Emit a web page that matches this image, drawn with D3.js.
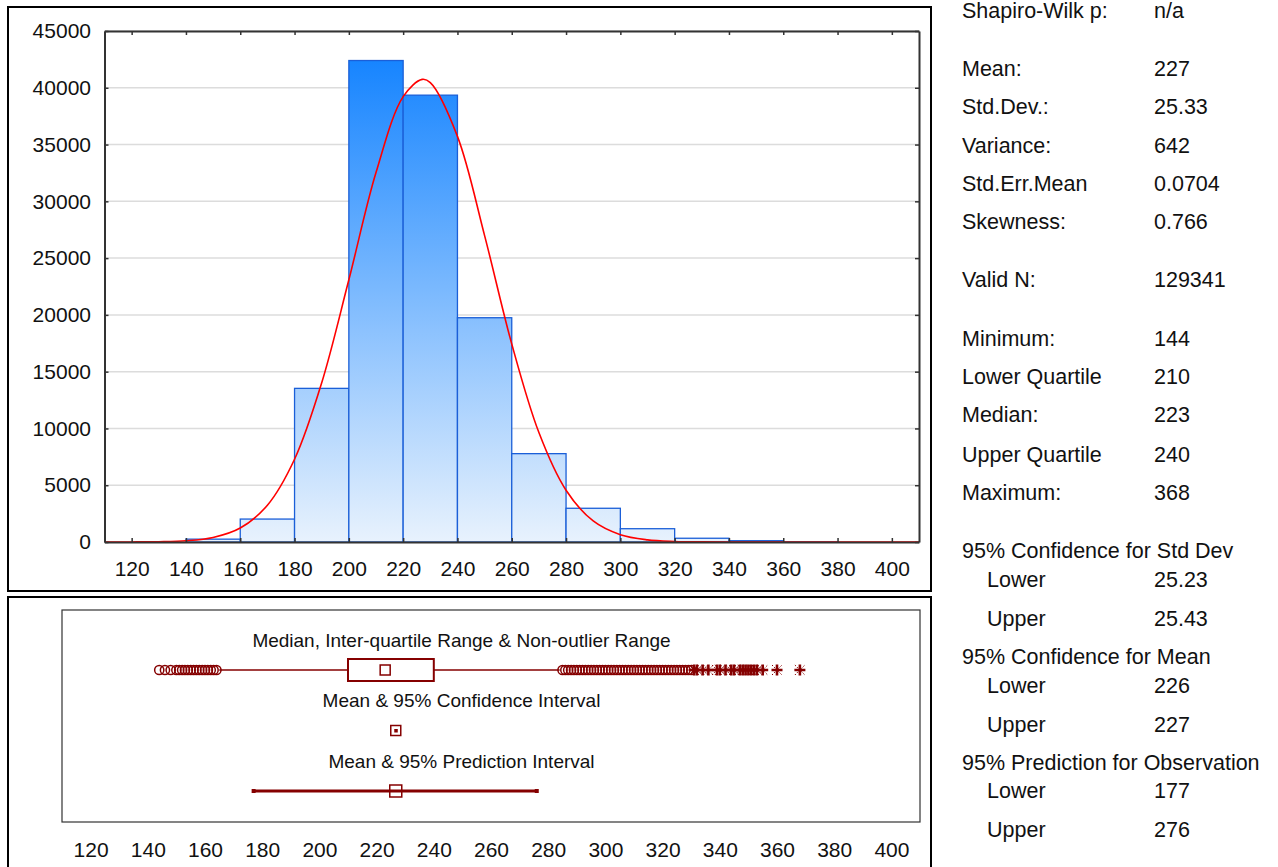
<!DOCTYPE html>
<html>
<head>
<meta charset="utf-8">
<title>Histogram with box plot and descriptive statistics</title>
<script src="https://cdnjs.cloudflare.com/ajax/libs/d3/7.8.5/d3.min.js"></script>
<style>
    body { margin: 0; background: #fff; }
    svg text { font-family: "Liberation Sans", Arial, sans-serif; fill: #111; }
</style>
</head>
<body>
<div id="chart"></div>
<script>
// histogram bins (start of each 20-wide bin) and counts
const binStarts = [140, 160, 180, 200, 220, 240, 260, 280, 300, 320, 340, 360];
const binCounts = [250, 2020, 13530, 42400, 39350, 19750, 7780, 2970, 1170, 330, 115, 3];
const binWidth = 20;

// fitted normal curve
const fitX = [110, 120, 130, 140, 150, 160, 170, 180, 190, 200, 210, 220, 227, 230, 240, 250, 260, 270, 280, 290, 300, 310, 320, 330, 340, 350, 360, 410];
const fitY = [1, 5, 27, 111, 400, 1230, 3240, 7290, 14020, 23090, 32530, 39220, 40740, 40460, 35720, 26980, 17440, 9640, 4560, 1850, 640, 190, 48, 10, 2, 0, 0, 0];

const xTicks = [120, 140, 160, 180, 200, 220, 240, 260, 280, 300, 320, 340, 360, 380, 400];
const yTicks = [0, 5000, 10000, 15000, 20000, 25000, 30000, 35000, 40000, 45000];

// box plot values
const lowerQuartile = 210, medianVal = 223, upperQuartile = 240;
const whiskerLow = 165, whiskerHigh = 284;
const meanVal = 226.7;
const ciMean = [226.5, 226.9];
const predInterval = [177, 276];
const outliersLow = [144, 146, 148, 150, 151, 152, 153, 154, 155, 156, 157, 158, 159, 160, 161, 162, 163, 164];
const outliersHigh = d3.range(285, 331);
const extremes = [331, 332, 334, 336, 339, 340, 342, 344, 345, 347, 348, 349, 350, 351, 352, 353, 355, 360, 368];
const rowTitles = ["Median, Inter-quartile Range & Non-outlier Range", "Mean & 95% Confidence Interval", "Mean & 95% Prediction Interval"];

// statistics panel
const statLabels = ["Shapiro-Wilk p:", "Mean:", "Std.Dev.:", "Variance:", "Std.Err.Mean", "Skewness:", "Valid N:",
    "Minimum:", "Lower Quartile", "Median:", "Upper Quartile", "Maximum:",
    "95% Confidence for Std Dev", "Lower", "Upper", "95% Confidence for Mean", "Lower", "Upper",
    "95% Prediction for Observation", "Lower", "Upper"];
const statValues = ["n/a", "227", "25.33", "642", "0.0704", "0.766", "129341",
    "144", "210", "223", "240", "368",
    "", "25.23", "25.43", "", "226", "227",
    "", "177", "276"];
const statIndent = [0,0,0,0,0,0,0, 0,0,0,0,0, 0,1,1, 0,1,1, 0,1,1];

// layout
const W = 1278, H = 867;
const dark = "#850000";
const statBaselines = [18, 76, 114, 153, 191, 229, 287, 346, 384, 422, 462, 500, 558, 587, 626, 664, 693, 732, 770, 798, 837];

const svg = d3.select("#chart").append("svg")
    .attr("width", W)
    .attr("height", H);

// panel frames
svg.append("rect").attr("x", 8).attr("y", 7).attr("width", 923).attr("height", 584)
    .attr("fill", "none").attr("stroke", "#000").attr("stroke-width", 2);
svg.append("rect").attr("x", 8).attr("y", 597).attr("width", 923).attr("height", 290)
    .attr("fill", "none").attr("stroke", "#000").attr("stroke-width", 2);

// ---- histogram ----
const pLeft = 104.5, pRight = 919, pTop = 31, pBottom = 542;
const x = d3.scaleLinear().domain([110, 410]).range([pLeft, pRight]);
const y = d3.scaleLinear().domain([0, 45000]).range([pBottom, pTop]);

const defs = svg.append("defs");
const grad = defs.append("linearGradient")
    .attr("id", "barFill")
    .attr("gradientUnits", "userSpaceOnUse")
    .attr("x1", 0).attr("x2", 0)
    .attr("y1", pTop).attr("y2", pBottom);
grad.append("stop").attr("offset", "0%").attr("stop-color", "#0a7eff");
grad.append("stop").attr("offset", "100%").attr("stop-color", "#e8f2fd");
defs.append("clipPath").attr("id", "plotClip")
    .append("rect").attr("x", pLeft).attr("y", pTop).attr("width", pRight - pLeft).attr("height", pBottom - pTop);

// grid
svg.append("g").selectAll("line")
    .data(yTicks)
    .enter().append("line")
    .attr("x1", pLeft).attr("x2", pRight)
    .attr("y1", d => y(d)).attr("y2", d => y(d))
    .attr("stroke", "#dcdcdc").attr("stroke-width", 1.5);

// bars
svg.append("g").selectAll("rect")
    .data(binStarts)
    .enter().append("rect")
    .attr("x", d => x(d))
    .attr("width", d => x(d + binWidth) - x(d))
    .attr("y", (d, i) => y(binCounts[i]))
    .attr("height", (d, i) => y(0) - y(binCounts[i]))
    .attr("fill", "url(#barFill)")
    .attr("stroke", "#1b5fd8")
    .attr("stroke-width", 1.3);

// fitted curve
const fitLine = d3.line()
    .x(d => x(d[0]))
    .y(d => y(d[1]))
    .curve(d3.curveCatmullRom);
svg.append("path")
    .datum(fitX.map((v, i) => [v, fitY[i]]))
    .attr("clip-path", "url(#plotClip)")
    .attr("d", fitLine)
    .attr("fill", "none")
    .attr("stroke", "#ff0000")
    .attr("stroke-width", 1.6);

// axes with inward ticks
function styleAxis(g) {
    g.select(".domain").attr("stroke", "#333").attr("stroke-width", 2);
    g.selectAll(".tick line").attr("stroke", "#333").attr("stroke-width", 1.5);
    g.selectAll(".tick text").attr("fill", "#111").style("font-size", "21px")
        .style("font-family", "'Liberation Sans', Arial, sans-serif");
}
svg.append("g")
    .attr("transform", `translate(0,${pBottom})`)
    .call(d3.axisBottom(x).tickValues(xTicks).tickSize(-4).tickSizeOuter(0).tickPadding(19))
    .call(styleAxis);
svg.append("g")
    .attr("transform", `translate(0,${pTop})`)
    .call(d3.axisTop(x).tickValues(xTicks).tickSize(-4).tickSizeOuter(0).tickFormat(""))
    .call(styleAxis);
svg.append("g")
    .attr("transform", `translate(${pLeft},0)`)
    .call(d3.axisLeft(y).tickValues(yTicks).tickSize(-4).tickSizeOuter(0).tickPadding(13.5).tickFormat(d3.format("d")))
    .call(styleAxis);
svg.append("g")
    .attr("transform", `translate(${pRight},0)`)
    .call(d3.axisRight(y).tickValues(yTicks).tickSize(-4).tickSizeOuter(0).tickFormat(""))
    .call(styleAxis);

// ---- box plot panel ----
const bLeft = 62, bRight = 920, bTop = 610, bBottom = 822;
const x2 = d3.scaleLinear().domain([110, 410]).range([bLeft, bRight]);
const row = d3.scalePoint().domain(["box", "ci", "pi"]).range([670, 791]);

svg.append("rect").attr("x", bLeft).attr("y", bTop).attr("width", bRight - bLeft).attr("height", bBottom - bTop)
    .attr("fill", "none").attr("stroke", "#333").attr("stroke-width", 1.2);

const bx = svg.append("g")
    .attr("transform", `translate(0,${bBottom})`)
    .call(d3.axisBottom(x2).tickValues(xTicks).tickSize(0).tickPadding(20));
bx.select(".domain").remove();
bx.selectAll(".tick text").attr("fill", "#111").style("font-size", "21px")
    .style("font-family", "'Liberation Sans', Arial, sans-serif");

// row titles
svg.append("g").selectAll("text")
    .data(rowTitles)
    .enter().append("text")
    .attr("x", 461.5)
    .attr("y", (d, i) => row(row.domain()[i]) - 30)
    .attr("dy", "0.35em")
    .attr("text-anchor", "middle")
    .style("font-size", "19px")
    .text(d => d);

// row 1: whiskers, box, median, outliers
const yb = row("box");
svg.append("line")
    .attr("x1", x2(whiskerLow)).attr("x2", x2(whiskerHigh))
    .attr("y1", yb).attr("y2", yb)
    .attr("stroke", dark).attr("stroke-width", 1.3);
svg.append("rect")
    .attr("x", x2(lowerQuartile)).attr("width", x2(upperQuartile) - x2(lowerQuartile))
    .attr("y", yb - 11).attr("height", 22)
    .attr("fill", "#fff").attr("stroke", dark).attr("stroke-width", 2);
svg.append("rect")
    .attr("x", x2(medianVal) - 5).attr("y", yb - 5)
    .attr("width", 10).attr("height", 10)
    .attr("fill", "#fff").attr("stroke", dark).attr("stroke-width", 1.5);

svg.append("g").selectAll("circle")
    .data(outliersLow.concat(outliersHigh))
    .enter().append("circle")
    .attr("cx", d => x2(d))
    .attr("cy", yb)
    .attr("r", 4.6)
    .attr("fill", "none")
    .attr("stroke", dark)
    .attr("stroke-width", 1.5);

const ext = svg.append("g").selectAll("g")
    .data(extremes)
    .enter().append("g")
    .attr("transform", d => `translate(${x2(d)},${yb})`);
ext.append("path")
    .attr("d", "M-5.5,0H5.5M0,-5.5V5.5")
    .attr("stroke", dark).attr("stroke-width", 2.6);
ext.append("path")
    .attr("d", "M-5,-5L5,5M-5,5L5,-5")
    .attr("stroke", dark).attr("stroke-width", 1)
    .attr("stroke-dasharray", "1.5,1.5");

// row 2: mean with confidence interval
const yc = row("ci");
svg.append("line")
    .attr("x1", x2(ciMean[0])).attr("x2", x2(ciMean[1]))
    .attr("y1", yc).attr("y2", yc)
    .attr("stroke", dark).attr("stroke-width", 2);
svg.append("rect")
    .attr("x", x2(meanVal) - 5).attr("y", yc - 5)
    .attr("width", 10).attr("height", 10)
    .attr("fill", "#fff").attr("stroke", dark).attr("stroke-width", 1.5);
svg.append("rect")
    .attr("x", x2(meanVal) - 1.5).attr("y", yc - 1.5)
    .attr("width", 3.5).attr("height", 3.5)
    .attr("fill", dark);

// row 3: mean with prediction interval
const yp = row("pi");
svg.append("line")
    .attr("x1", x2(predInterval[0])).attr("x2", x2(predInterval[1]))
    .attr("y1", yp).attr("y2", yp)
    .attr("stroke", dark).attr("stroke-width", 3);
svg.append("g").selectAll("rect")
    .data(predInterval)
    .enter().append("rect")
    .attr("x", d => x2(d) - 2).attr("y", yp - 2)
    .attr("width", 4).attr("height", 4)
    .attr("fill", dark);
svg.append("rect")
    .attr("x", x2(meanVal) - 6).attr("y", yp - 6)
    .attr("width", 12).attr("height", 12)
    .attr("fill", "none").attr("stroke", dark).attr("stroke-width", 1.5);

// ---- statistics panel ----
const stats = svg.append("g").style("font-size", "21.5px");
stats.selectAll("text.lab")
    .data(statLabels)
    .enter().append("text")
    .attr("class", "lab")
    .attr("x", (d, i) => statIndent[i] ? 987 : 962)
    .attr("y", (d, i) => statBaselines[i])
    .text(d => d);
stats.selectAll("text.val")
    .data(statValues)
    .enter().append("text")
    .attr("class", "val")
    .attr("x", 1154)
    .attr("y", (d, i) => statBaselines[i])
    .text(d => d);
</script>
</body>
</html>
